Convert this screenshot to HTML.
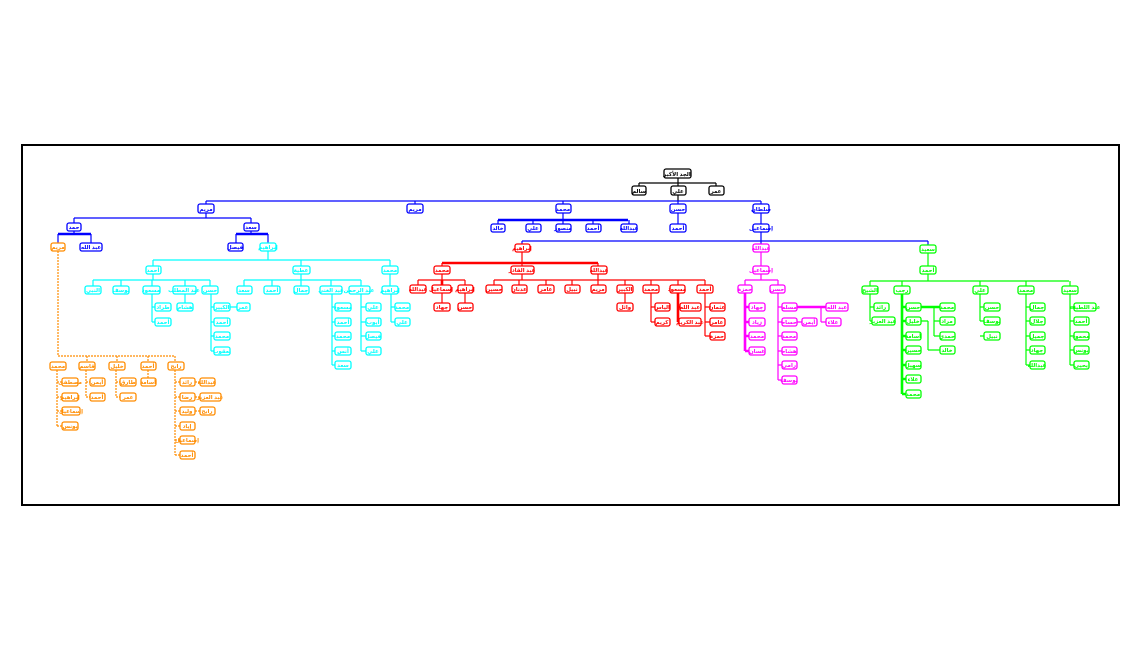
<!DOCTYPE html>
<html><head><meta charset="utf-8"><style>
html,body{margin:0;padding:0;background:#fff;width:1148px;height:658px;overflow:hidden}
svg{display:block}
text{font-family:"Liberation Sans","DejaVu Sans",sans-serif;font-size:5.5px;font-weight:bold;text-anchor:middle;stroke:none}
rect{fill:#fff;stroke-width:1.3}
.l{fill:none;stroke-width:1.2}
.t{fill:none;stroke-width:2.6}
</style></head><body>
<svg width="1148" height="658" viewBox="0 0 1148 658">
<rect x="22" y="145" width="1097" height="360" style="fill:none;stroke:#000;stroke-width:2"/>

<!-- BLACK -->
<g stroke="#000" fill="#000">
<path class="l" d="M678 178V201M639 183H716M639 183V186M716 183V186"/>
<rect x="664" y="169" width="27" height="9" rx="2"/><text x="677" y="176">الجد الأكبر</text>
<rect x="632" y="186" width="14" height="9" rx="2"/><text x="639" y="193">سالم</text>
<rect x="671" y="186" width="15" height="9" rx="2"/><text x="678" y="193">علي</text>
<rect x="709" y="186" width="15" height="9" rx="2"/><text x="716" y="193">عمر</text>
</g>

<!-- BLUE -->
<g stroke="#0000ff" fill="#0000ff">
<path class="l" d="M206 201H761M206 201V204M415 201V204M563 201V204M678 201V204M761 201V204
M206 213V218M74 218H251M74 218V223M251 218V223M74 231V234M251 231V234M58 234V243M91 234V243M236 234V243M268 234V243
M563 213V220M498 220V224M533 220V224M563 220V224M593 220V224M629 220V224M678 213V224M761 213V224M761 232V244M522 241H928M522 241V244M928 241V245"/>
<path class="t" d="M58 234H91M236 234H268M498 220H628"/>
<rect x="198" y="204" width="16" height="9" rx="2"/><text x="206" y="211">مريم</text>
<rect x="407" y="204" width="16" height="9" rx="2"/><text x="415" y="211">مريم</text>
<rect x="556" y="204" width="15" height="9" rx="2"/><text x="563" y="211">محمد</text>
<rect x="670" y="204" width="16" height="9" rx="2"/><text x="678" y="211">حسن</text>
<rect x="753" y="204" width="16" height="9" rx="2"/><text x="761" y="211">سلطان</text>
<rect x="67" y="223" width="14" height="8" rx="2"/><text x="74" y="229">حمد</text>
<rect x="244" y="223" width="15" height="8" rx="2"/><text x="251" y="229">سعد</text>
<rect x="80" y="243" width="22" height="8" rx="2"/><text x="91" y="249">عبد الله</text>
<rect x="228" y="243" width="15" height="8" rx="2"/><text x="235" y="249">فيصل</text>
<rect x="491" y="224" width="14" height="8" rx="2"/><text x="498" y="230">خالد</text>
<rect x="526" y="224" width="15" height="8" rx="2"/><text x="533" y="230">علي</text>
<rect x="556" y="224" width="15" height="8" rx="2"/><text x="563" y="230">منصور</text>
<rect x="586" y="224" width="15" height="8" rx="2"/><text x="593" y="230">أحمد</text>
<rect x="621" y="224" width="16" height="8" rx="2"/><text x="629" y="230">عبدالله</text>
<rect x="670" y="224" width="16" height="8" rx="2"/><text x="678" y="230">أحمد</text>
<rect x="753" y="224" width="16" height="8" rx="2"/><text x="761" y="230">إسماعيل</text>
</g>

<!-- CYAN -->
<g stroke="#00ffff" fill="#00ffff">
<path class="l" d="M268 251V260M153 260H390M153 260V266M301 260V266M390 260V266
M153 274V280M93 280H210M93 280V286M121 280V286M152 280V286M185 280V286M210 280V286
M301 274V280M244 280H361M244 280V286M272 280V286M301 280V286M331 280V286M361 280V286M390 274V286
M152 294V322M152 307H155M152 322H155M185 294V303M211 294V351M211 307H214M211 322H214M211 336H214M211 351H214M230 307H237
M332 294V365M332 307H335M332 322H335M332 336H335M332 351H335M332 365H335
M361 294V351M361 307H366M361 322H366M361 336H366M361 351H366M391 294V322M391 307H395M391 322H395"/>
<rect x="260" y="243" width="16" height="8" rx="2"/><text x="268" y="249">إبراهيم</text>
<rect x="146" y="266" width="15" height="8" rx="2"/><text x="153" y="272">أحمد</text>
<rect x="293" y="266" width="17" height="8" rx="2"/><text x="301" y="272">عطية</text>
<rect x="382" y="266" width="16" height="8" rx="2"/><text x="390" y="272">محمد</text>
<rect x="85" y="286" width="16" height="8" rx="2"/><text x="93" y="292">النبي</text>
<rect x="113" y="286" width="16" height="8" rx="2"/><text x="121" y="292">يوسف</text>
<rect x="143" y="286" width="17" height="8" rx="2"/><text x="151" y="292">مسعود</text>
<rect x="173" y="286" width="23" height="8" rx="2"/><text x="184" y="292">عبد المطلب</text>
<rect x="202" y="286" width="16" height="8" rx="2"/><text x="210" y="292">حسن</text>
<rect x="237" y="286" width="15" height="8" rx="2"/><text x="244" y="292">سعد</text>
<rect x="264" y="286" width="16" height="8" rx="2"/><text x="272" y="292">أحمد</text>
<rect x="294" y="286" width="15" height="8" rx="2"/><text x="301" y="292">جمال</text>
<rect x="320" y="286" width="22" height="8" rx="2"/><text x="331" y="292">عبد الغني</text>
<rect x="349" y="286" width="21" height="8" rx="2"/><text x="359" y="292">عبد الرحمن</text>
<rect x="382" y="286" width="16" height="8" rx="2"/><text x="390" y="292">إبراهيم</text>
<rect x="155" y="303" width="16" height="8" rx="2"/><text x="163" y="309">طراد</text>
<rect x="155" y="318" width="16" height="8" rx="2"/><text x="163" y="324">أحمد</text>
<rect x="177" y="303" width="16" height="8" rx="2"/><text x="185" y="309">هشام</text>
<rect x="214" y="303" width="16" height="8" rx="2"/><text x="222" y="309">الكبير</text>
<rect x="237" y="303" width="13" height="8" rx="2"/><text x="243" y="309">عمر</text>
<rect x="214" y="318" width="16" height="8" rx="2"/><text x="222" y="324">أحمد</text>
<rect x="214" y="332" width="16" height="8" rx="2"/><text x="222" y="338">محمد</text>
<rect x="214" y="347" width="16" height="8" rx="2"/><text x="222" y="353">يعقوب</text>
<rect x="335" y="303" width="16" height="8" rx="2"/><text x="343" y="309">مسعود</text>
<rect x="335" y="318" width="16" height="8" rx="2"/><text x="343" y="324">أحمد</text>
<rect x="335" y="332" width="16" height="8" rx="2"/><text x="343" y="338">محمد</text>
<rect x="335" y="347" width="16" height="8" rx="2"/><text x="343" y="353">أنس</text>
<rect x="335" y="361" width="16" height="8" rx="2"/><text x="343" y="367">سعد</text>
<rect x="366" y="303" width="15" height="8" rx="2"/><text x="373" y="309">علي</text>
<rect x="366" y="318" width="15" height="8" rx="2"/><text x="373" y="324">أيوب</text>
<rect x="366" y="332" width="15" height="8" rx="2"/><text x="373" y="338">فيصل</text>
<rect x="366" y="347" width="15" height="8" rx="2"/><text x="373" y="353">علي</text>
<rect x="395" y="303" width="15" height="8" rx="2"/><text x="402" y="309">محمد</text>
<rect x="395" y="318" width="15" height="8" rx="2"/><text x="402" y="324">علي</text>
</g>

<!-- ORANGE -->
<g stroke="#ff8c00" fill="#ff8c00">
<path class="l" stroke-dasharray="2 1" d="M58 251V356M58 356H175M87 356V362M117 356V362M148 356V362M175 356V362
M57 370V426M57 382H62M57 397H62M57 411H62M57 426H62M86 370V397M86 382H90M86 397H90M116 370V397M116 382H120M116 397H120M148 370V378
M175 370V455M175 382H180M175 397H180M175 411H180M175 426H180M175 440H180M175 455H180M195 382H200M195 397H200M195 411H200"/>
<rect x="51" y="243" width="14" height="8" rx="2"/><text x="58" y="249">مريم</text>
<rect x="50" y="362" width="16" height="8" rx="2"/><text x="58" y="368">محمد</text>
<rect x="79" y="362" width="16" height="8" rx="2"/><text x="87" y="368">قاسم</text>
<rect x="109" y="362" width="16" height="8" rx="2"/><text x="117" y="368">خليل</text>
<rect x="141" y="362" width="15" height="8" rx="2"/><text x="148" y="368">أحمد</text>
<rect x="168" y="362" width="16" height="8" rx="2"/><text x="176" y="368">رابح</text>
<rect x="62" y="378" width="16" height="8" rx="2"/><text x="70" y="384">مصطفى</text>
<rect x="62" y="393" width="16" height="8" rx="2"/><text x="70" y="399">إبراهيم</text>
<rect x="62" y="407" width="18" height="8" rx="2"/><text x="71" y="413">إسماعيل</text>
<rect x="62" y="422" width="16" height="8" rx="2"/><text x="70" y="428">يونس</text>
<rect x="90" y="378" width="15" height="8" rx="2"/><text x="97" y="384">أيمن</text>
<rect x="90" y="393" width="15" height="8" rx="2"/><text x="97" y="399">أحمد</text>
<rect x="120" y="378" width="16" height="8" rx="2"/><text x="128" y="384">طارق</text>
<rect x="120" y="393" width="16" height="8" rx="2"/><text x="128" y="399">عمر</text>
<rect x="141" y="378" width="15" height="8" rx="2"/><text x="148" y="384">أسامة</text>
<rect x="180" y="378" width="15" height="8" rx="2"/><text x="187" y="384">رائد</text>
<rect x="180" y="393" width="15" height="8" rx="2"/><text x="187" y="399">رضا</text>
<rect x="180" y="407" width="15" height="8" rx="2"/><text x="187" y="413">وليد</text>
<rect x="180" y="422" width="15" height="8" rx="2"/><text x="187" y="428">إياد</text>
<rect x="180" y="436" width="15" height="8" rx="2"/><text x="187" y="442">إسماعيل</text>
<rect x="180" y="451" width="15" height="8" rx="2"/><text x="187" y="457">أحمد</text>
<rect x="200" y="378" width="15" height="8" rx="2"/><text x="207" y="384">عبدالله</text>
<rect x="200" y="393" width="21" height="8" rx="2"/><text x="210" y="399">عبد العزيز</text>
<rect x="200" y="407" width="15" height="8" rx="2"/><text x="207" y="413">رابح</text>
</g>

<!-- RED -->
<g stroke="#ff0000" fill="#ff0000">
<path class="l" d="M522 252V263M442 263V266M522 263V266M598 263V266
M442 274V280M418 280H465M418 280V285M442 280V285M465 280V285
M522 274V280M598 274V280M494 280H705M494 280V285M519 280V285M546 280V285M572 280V285M598 280V285M625 280V285M651 280V285M678 280V285M705 280V285
M442 293V303M465 293V303M625 293V303M651 293V322M651 307H655M651 322H655M705 293V336M705 307H710M705 322H710M705 336H710"/>
<path class="t" d="M442 263H598M442 280V290M678 293V322M678 307H680M678 322H680"/>
<rect x="515" y="244" width="15" height="8" rx="2"/><text x="522" y="250">إبراهيم</text>
<rect x="434" y="266" width="16" height="8" rx="2"/><text x="442" y="272">محمد</text>
<rect x="511" y="266" width="23" height="8" rx="2"/><text x="522" y="272">عبد القادر</text>
<rect x="591" y="266" width="16" height="8" rx="2"/><text x="599" y="272">عبدالله</text>
<rect x="410" y="285" width="16" height="8" rx="2"/><text x="418" y="291">عبدالله</text>
<rect x="432" y="285" width="19" height="8" rx="2"/><text x="441" y="291">إسماعيل</text>
<rect x="458" y="285" width="15" height="8" rx="2"/><text x="465" y="291">إبراهيم</text>
<rect x="486" y="285" width="16" height="8" rx="2"/><text x="494" y="291">حسين</text>
<rect x="512" y="285" width="15" height="8" rx="2"/><text x="519" y="291">عدنان</text>
<rect x="538" y="285" width="16" height="8" rx="2"/><text x="546" y="291">عامر</text>
<rect x="565" y="285" width="15" height="8" rx="2"/><text x="572" y="291">نبيل</text>
<rect x="591" y="285" width="15" height="8" rx="2"/><text x="598" y="291">مريم</text>
<rect x="617" y="285" width="16" height="8" rx="2"/><text x="625" y="291">الكبير</text>
<rect x="643" y="285" width="16" height="8" rx="2"/><text x="651" y="291">محمد</text>
<rect x="670" y="285" width="15" height="8" rx="2"/><text x="677" y="291">مسعود</text>
<rect x="697" y="285" width="16" height="8" rx="2"/><text x="705" y="291">أحمد</text>
<rect x="434" y="303" width="16" height="8" rx="2"/><text x="442" y="309">جهاد</text>
<rect x="458" y="303" width="15" height="8" rx="2"/><text x="465" y="309">حسن</text>
<rect x="617" y="303" width="16" height="8" rx="2"/><text x="625" y="309">وائل</text>
<rect x="655" y="303" width="15" height="8" rx="2"/><text x="662" y="309">الياس</text>
<rect x="655" y="318" width="15" height="8" rx="2"/><text x="662" y="324">كريم</text>
<rect x="680" y="303" width="21" height="8" rx="2"/><text x="690" y="309">عبد الله</text>
<rect x="679" y="318" width="22" height="8" rx="2"/><text x="690" y="324">عبد الكريم</text>
<rect x="710" y="303" width="15" height="8" rx="2"/><text x="717" y="309">عثمان</text>
<rect x="710" y="318" width="15" height="8" rx="2"/><text x="717" y="324">عامر</text>
<rect x="710" y="332" width="15" height="8" rx="2"/><text x="717" y="338">حمزة</text>
</g>

<!-- MAGENTA -->
<g stroke="#ff00ff" fill="#ff00ff">
<path class="l" d="M761 252V266M761 274V280M745 280H778M745 280V285M778 280V285
M778 293V380M778 307H782M778 322H782M778 336H782M778 351H782M778 365H782M778 380H782M797 322H802M821 307V322M821 322H826"/>
<path class="t" d="M745 293V351M745 307H749M745 322H749M745 336H749M745 351H749M797 307H826"/>
<rect x="753" y="244" width="16" height="8" rx="2"/><text x="761" y="250">عبدالله</text>
<rect x="753" y="266" width="16" height="8" rx="2"/><text x="761" y="272">إسماعيل</text>
<rect x="738" y="285" width="14" height="8" rx="2"/><text x="745" y="291">حمزة</text>
<rect x="770" y="285" width="15" height="8" rx="2"/><text x="777" y="291">حسن</text>
<rect x="749" y="303" width="16" height="8" rx="2"/><text x="757" y="309">جهاد</text>
<rect x="749" y="318" width="16" height="8" rx="2"/><text x="757" y="324">زياد</text>
<rect x="749" y="332" width="16" height="8" rx="2"/><text x="757" y="338">محمد</text>
<rect x="749" y="347" width="16" height="8" rx="2"/><text x="757" y="353">غسان</text>
<rect x="782" y="303" width="15" height="8" rx="2"/><text x="789" y="309">مسلم</text>
<rect x="782" y="318" width="15" height="8" rx="2"/><text x="789" y="324">حسام</text>
<rect x="782" y="332" width="15" height="8" rx="2"/><text x="789" y="338">محمد</text>
<rect x="782" y="347" width="15" height="8" rx="2"/><text x="789" y="353">هشام</text>
<rect x="782" y="361" width="15" height="8" rx="2"/><text x="789" y="367">رامي</text>
<rect x="782" y="376" width="15" height="8" rx="2"/><text x="789" y="382">يوسف</text>
<rect x="802" y="318" width="15" height="8" rx="2"/><text x="809" y="324">أيمن</text>
<rect x="826" y="303" width="22" height="8" rx="2"/><text x="837" y="309">عبد الله</text>
<rect x="826" y="318" width="15" height="8" rx="2"/><text x="833" y="324">علاء</text>
</g>

<!-- GREEN -->
<g stroke="#00ff00" fill="#00ff00">
<path class="l" d="M928 253V266M928 274V281M870 281H1069M870 281V286M902 281V286M980 281V286M1026 281V286M1070 281V286
M870 294V321M870 307H874M870 321H872M934 307V336M934 321H940M934 336H940M921 321H928M928 321V350M928 350H940
M980 294V321M980 307H984M980 321H984M980 336H984
M1026 294V365M1026 307H1030M1026 321H1030M1026 336H1030M1026 350H1030M1026 365H1030
M1070 294V365M1070 307H1074M1070 321H1074M1070 336H1074M1070 350H1074M1070 365H1074"/>
<path class="t" d="M902 294V394M902 307H906M902 321H906M902 336H906M902 350H906M902 365H906M902 379H906M902 394H906M921 307H940"/>
<rect x="920" y="245" width="16" height="8" rx="2"/><text x="928" y="251">سعيد</text>
<rect x="920" y="266" width="16" height="8" rx="2"/><text x="928" y="272">أحمد</text>
<rect x="862" y="286" width="16" height="8" rx="2"/><text x="870" y="292">الشيخ</text>
<rect x="894" y="286" width="16" height="8" rx="2"/><text x="902" y="292">رجب</text>
<rect x="973" y="286" width="15" height="8" rx="2"/><text x="980" y="292">علي</text>
<rect x="1018" y="286" width="16" height="8" rx="2"/><text x="1026" y="292">محمد</text>
<rect x="1062" y="286" width="16" height="8" rx="2"/><text x="1070" y="292">سعيد</text>
<rect x="874" y="303" width="15" height="8" rx="2"/><text x="881" y="309">رائد</text>
<rect x="872" y="317" width="23" height="8" rx="2"/><text x="883" y="323">عبد العزيز</text>
<rect x="906" y="303" width="15" height="8" rx="2"/><text x="913" y="309">حسن</text>
<rect x="906" y="317" width="15" height="8" rx="2"/><text x="913" y="323">خليل</text>
<rect x="906" y="332" width="15" height="8" rx="2"/><text x="913" y="338">أسامة</text>
<rect x="906" y="346" width="15" height="8" rx="2"/><text x="913" y="352">حسين</text>
<rect x="906" y="361" width="15" height="8" rx="2"/><text x="913" y="367">سهيل</text>
<rect x="906" y="375" width="15" height="8" rx="2"/><text x="913" y="381">علاء</text>
<rect x="906" y="390" width="15" height="8" rx="2"/><text x="913" y="396">محمد</text>
<rect x="940" y="303" width="15" height="8" rx="2"/><text x="947" y="309">محمد</text>
<rect x="940" y="317" width="15" height="8" rx="2"/><text x="947" y="323">مراد</text>
<rect x="940" y="332" width="15" height="8" rx="2"/><text x="947" y="338">حمدي</text>
<rect x="940" y="346" width="15" height="8" rx="2"/><text x="947" y="352">خالد</text>
<rect x="984" y="303" width="16" height="8" rx="2"/><text x="992" y="309">حسن</text>
<rect x="984" y="317" width="16" height="8" rx="2"/><text x="992" y="323">يوسف</text>
<rect x="984" y="332" width="16" height="8" rx="2"/><text x="992" y="338">نبيل</text>
<rect x="1030" y="303" width="15" height="8" rx="2"/><text x="1037" y="309">جمال</text>
<rect x="1030" y="317" width="15" height="8" rx="2"/><text x="1037" y="323">جلال</text>
<rect x="1030" y="332" width="15" height="8" rx="2"/><text x="1037" y="338">جميل</text>
<rect x="1030" y="346" width="15" height="8" rx="2"/><text x="1037" y="352">جهاد</text>
<rect x="1030" y="361" width="15" height="8" rx="2"/><text x="1037" y="367">عبدالله</text>
<rect x="1074" y="303" width="22" height="8" rx="2"/><text x="1085" y="309">عبد اللطيف</text>
<rect x="1074" y="317" width="15" height="8" rx="2"/><text x="1081" y="323">أحمد</text>
<rect x="1074" y="332" width="15" height="8" rx="2"/><text x="1081" y="338">محمود</text>
<rect x="1074" y="346" width="15" height="8" rx="2"/><text x="1081" y="352">يونس</text>
<rect x="1074" y="361" width="15" height="8" rx="2"/><text x="1081" y="367">يحيى</text>
</g>
</svg>
</body></html>
